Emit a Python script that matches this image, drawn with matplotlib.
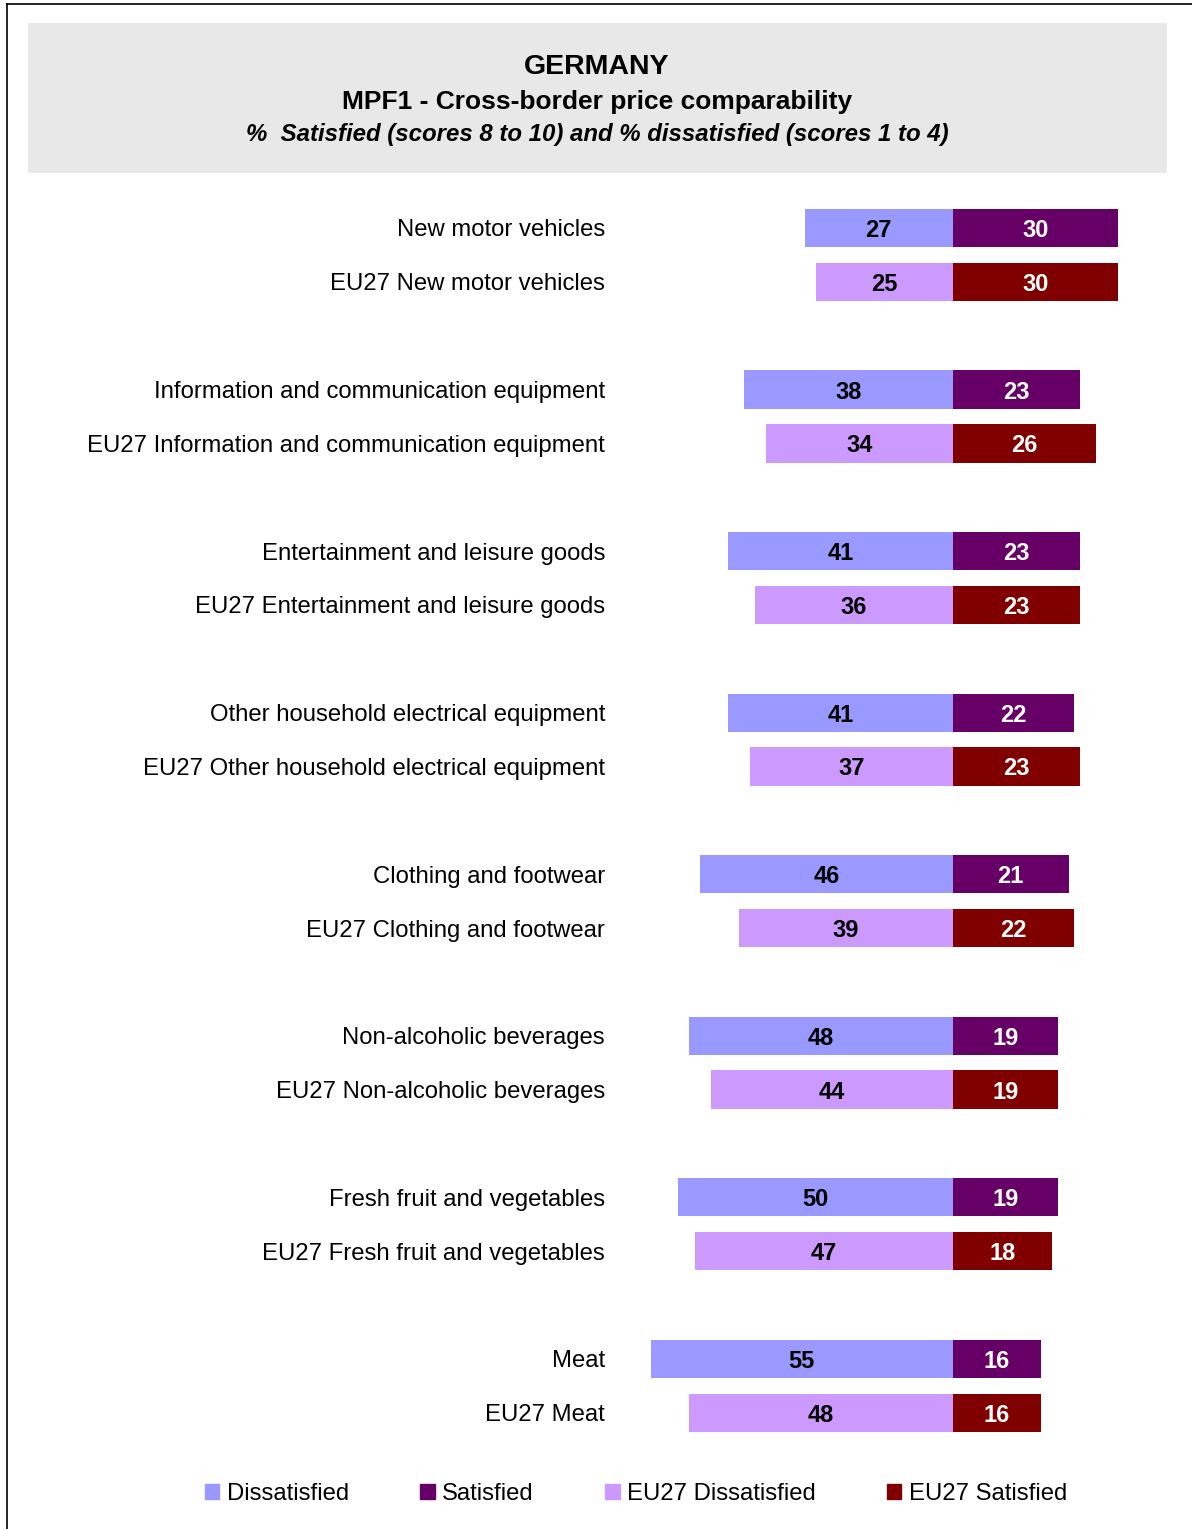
import matplotlib
matplotlib.use('Agg')
from matplotlib import pyplot as plt
from matplotlib.patches import Rectangle, Patch
from matplotlib.lines import Line2D

plt.rcParams['font.family'] = ['Liberation Sans', 'DejaVu Sans']

categories = ['New motor vehicles', 'Information and communication equipment',
              'Entertainment and leisure goods', 'Other household electrical equipment',
              'Clothing and footwear', 'Non-alcoholic beverages',
              'Fresh fruit and vegetables', 'Meat']
dissatisfied = [27, 38, 41, 41, 46, 48, 50, 55]
satisfied = [30, 23, 23, 22, 21, 19, 19, 16]
eu_dissatisfied = [25, 34, 36, 37, 39, 44, 47, 48]
eu_satisfied = [30, 26, 23, 23, 22, 19, 18, 16]

c_dis = '#9999FF'
c_sat = '#660066'
c_eu_dis = '#CC99FF'
c_eu_sat = '#800000'

W, H = 1192, 1529
fig = plt.figure(figsize=(W / 100, H / 100), dpi=100)

# frame lines (top and left) and grey title box
fig.add_artist(Line2D([7 / W, 7 / W], [0, 1 - 4 / H], color='black', lw=1.2))
fig.add_artist(Line2D([7 / W, 1], [1 - 4 / H, 1 - 4 / H], color='black', lw=1.2))
fig.add_artist(Rectangle((28 / W, 1 - 173 / H), (1167 - 28) / W, 150 / H,
                         facecolor='#E8E8E8', edgecolor='none'))

fig.text(597 / W, 1 - 67 / H, 'GERMANY', ha='center', va='center',
         fontsize=20.5, fontweight='bold')
fig.text(597 / W, 1 - 102 / H, 'MPF1 - Cross-border price comparability', ha='center',
         va='center', fontsize=19, fontweight='bold')
fig.text(597 / W, 1 - 134 / H,
         '%  Satisfied (scores 8 to 10) and % dissatisfied (scores 1 to 4)',
         ha='center', va='center', fontsize=17.3, fontweight='bold', style='italic')

# axes placed in pixel coordinates
px_left, px_right, px_top, px_bot = 620, 1180, 190, 1450
ax = fig.add_axes([px_left / W, 1 - px_bot / H, (px_right - px_left) / W, (px_bot - px_top) / H])
scale = 5.5
unit = 53.85
ax.set_xlim((px_left - 953) / scale, (px_right - 953) / scale)
ax.set_ylim((px_bot - 228) / unit, (px_top - 228) / unit)
ax.axis('off')

h = 0.71
fs = 17.2
for g, cat in enumerate(categories):
    y1 = g * 3
    y2 = g * 3 + 1
    ax.barh(y1, -dissatisfied[g], height=h, color=c_dis)
    ax.barh(y1, satisfied[g], height=h, color=c_sat)
    ax.barh(y2, -eu_dissatisfied[g], height=h, color=c_eu_dis)
    ax.barh(y2, eu_satisfied[g], height=h, color=c_eu_sat)
    ax.text(-dissatisfied[g] / 2, y1, str(dissatisfied[g]), ha='center', va='center_baseline',
            fontsize=17, fontweight='bold', color='black')
    ax.text(satisfied[g] / 2, y1, str(satisfied[g]), ha='center', va='center_baseline',
            fontsize=17, fontweight='bold', color='white')
    ax.text(-eu_dissatisfied[g] / 2, y2, str(eu_dissatisfied[g]), ha='center', va='center_baseline',
            fontsize=17, fontweight='bold', color='black')
    ax.text(eu_satisfied[g] / 2, y2, str(eu_satisfied[g]), ha='center', va='center_baseline',
            fontsize=17, fontweight='bold', color='white')
    # category labels right-aligned at pixel x=605
    lx = (605 - 953) / scale
    ax.text(lx, y1, cat, ha='right', va='center_baseline', fontsize=fs, clip_on=False)
    ax.text(lx, y2, 'EU27 ' + cat, ha='right', va='center_baseline', fontsize=fs, clip_on=False)

handles = [Patch(color=c_dis), Patch(color=c_sat), Patch(color=c_eu_dis), Patch(color=c_eu_sat)]
labels = ['Dissatisfied', 'Satisfied', 'EU27 Dissatisfied', 'EU27 Satisfied']
fig.legend(handles, labels, loc='center', bbox_to_anchor=(636 / W, 1 - 1494 / H), ncol=4,
           frameon=False, fontsize=fs, handlelength=0.6, handleheight=0.6,
           handletextpad=0.3, columnspacing=3.0)

fig.savefig('out.png', dpi=100)
